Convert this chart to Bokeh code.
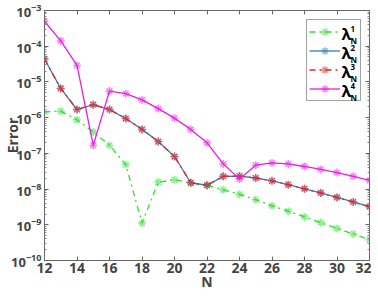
from bokeh.plotting import figure
from bokeh.models import (FixedTicker, LinearAxis, LogAxis, Legend, LegendItem, Label,
                          CustomJSTickFormatter)
from bokeh.embed import file_html
from bokeh.resources import INLINE

N = list(range(12, 33))
lam1 = [1.45e-6, 1.52e-6, 8.7e-7, 3.97e-7, 1.67e-7, 4.85e-8, 1.12e-9, 1.57e-8, 1.81e-8, 1.5e-8,
        1.28e-8, 9.55e-9, 7.14e-9, 5.05e-9, 3.4e-9, 2.41e-9, 1.66e-9, 1.15e-9, 7.9e-10, 5.56e-10, 3.84e-10]
lam2 = [4.36e-5, 6.56e-6, 1.69e-6, 2.3e-6, 1.69e-6, 9.44e-7, 4.69e-7, 2.14e-7, 8.15e-8, 1.5e-8,
        1.28e-8, 2.27e-8, 2.31e-8, 2.04e-8, 1.7e-8, 1.33e-8, 1.02e-8, 7.79e-9, 5.82e-9, 4.35e-9, 3.2e-9]
lam3 = [4.36e-5, 6.56e-6, 1.69e-6, 2.3e-6, 1.69e-6, 9.44e-7, 4.69e-7, 2.14e-7, 8.15e-8, 1.5e-8,
        1.28e-8, 2.27e-8, 2.31e-8, 2.04e-8, 1.7e-8, 1.33e-8, 1.02e-8, 7.79e-9, 5.82e-9, 4.35e-9, 3.2e-9]
lam4 = [5e-4, 1.41e-4, 2.9e-5, 1.67e-7, 5.56e-6, 4.71e-6, 3.13e-6, 1.79e-6, 9.67e-7, 4.69e-7,
        1.97e-7, 5.07e-8, 1.92e-8, 4.68e-8, 5.39e-8, 5.07e-8, 4.29e-8, 3.56e-8, 2.9e-8, 2.27e-8, 1.74e-8]
x_ticks = list(range(12, 33, 2))
y_ticks = [1e-10, 1e-9, 1e-8, 1e-7, 1e-6, 1e-5, 1e-4, 1e-3]
sup_labels = ["1", "2", "3", "4"]

FONT = "Open Sans"
FW, FH = 325, 250
minor = [m * 10.0 ** e for e in range(-10, -3) for m in range(2, 10)]

p = figure(frame_width=FW, frame_height=FH, y_axis_type="log", x_range=(12, 32),
           y_range=(1e-10, 1e-3), output_backend="svg", toolbar_location=None,
           min_border_left=2, min_border_right=2, min_border_top=10, min_border_bottom=2)
p.xgrid.visible = False
p.ygrid.visible = False
p.outline_line_color = "#666666"

colors = ["#2fe02f", "#2f7fc1", "#ee2020", "#e81ee8"]
dashes = ["dashdot", "solid", "dashdot", "solid"]
series = [lam1, lam2, lam3, lam4]
items = []
for s, c, d in zip(series, colors, dashes):
    r1 = p.line(N, s, line_color=c, line_dash=d, line_width=1.3)
    r2 = p.scatter(N, s, marker="asterisk", size=8, line_color=c, line_alpha=0.55, line_width=1.5)
    items.append((r1, r2))

for ax in p.xaxis:
    ax.ticker = FixedTicker(ticks=x_ticks)
    ax.axis_label = "N"
    ax.axis_label_text_font = FONT
    ax.axis_label_text_font_style = "bold"
    ax.axis_label_text_font_size = "14px"
    ax.axis_label_standoff = -4
    ax.major_label_text_font = FONT
    ax.major_label_text_font_style = "bold"
    ax.major_label_text_font_size = "14px"
    ax.major_label_standoff = 2
    ax.major_tick_in = 4
    ax.major_tick_out = 0
    ax.axis_line_color = "#666666"
    ax.major_tick_line_color = "#666666"

for ax in p.yaxis:
    ax.ticker = FixedTicker(ticks=y_ticks, minor_ticks=minor)
    ax.axis_label = "Error"
    ax.axis_label_text_font = FONT
    ax.axis_label_text_font_style = "bold"
    ax.axis_label_text_font_size = "14px"
    ax.axis_label_standoff = -14
    ax.major_label_text_font = FONT
    ax.major_label_text_font_style = "bold"
    ax.major_label_text_font_size = "13px"
    ax.major_label_standoff = 3
    ax.major_tick_in = 4
    ax.major_tick_out = 0
    ax.minor_tick_in = 2
    ax.minor_tick_out = 0
    ax.axis_line_color = "#666666"
    ax.major_tick_line_color = "#666666"
    ax.minor_tick_line_color = "#888888"

blank = CustomJSTickFormatter(code="return ''")
top = LinearAxis(ticker=FixedTicker(ticks=x_ticks), formatter=blank, major_tick_in=4, major_tick_out=0,
                 minor_tick_in=0, minor_tick_out=0, major_label_standoff=0,
                 axis_line_color="#666666", major_tick_line_color="#666666",
                 major_label_text_font_size="1px")
right = LogAxis(ticker=FixedTicker(ticks=y_ticks, minor_ticks=minor),
                formatter=blank, major_tick_in=4, major_tick_out=0, minor_tick_in=2, minor_tick_out=0,
                major_label_standoff=0, axis_line_color="#666666", major_tick_line_color="#666666",
                minor_tick_line_color="#888888", major_label_text_font_size="1px")
p.add_layout(top, "above")
p.add_layout(right, "right")

# legend: glyph samples from Bokeh's Legend, label text drawn as Labels
PAD, GW, GH, STAND, LW = 2, 31, 19, 2, 16
LEG_W = 2 * PAD + GW + STAND + LW
LEG_H = 2 * PAD + 4 * GH
lx = FW - 10 - LEG_W
ly = FH - 11 - LEG_H
legend = Legend(items=[LegendItem(label=" ", renderers=list(rr)) for rr in items],
                location=(lx, ly), padding=PAD, spacing=0, margin=0,
                glyph_width=GW, glyph_height=GH, label_standoff=STAND, label_width=LW, label_height=10,
                label_text_font=FONT, label_text_font_size="6px",
                border_line_color="#444444", border_line_width=1, background_fill_alpha=0.0)
p.add_layout(legend)

for i, sl in enumerate(sup_labels):
    yc = ly + LEG_H - (PAD + GH * i + GH / 2)
    xl = lx + PAD + GW + STAND
    p.add_layout(Label(x=xl, y=yc - 1, x_units="screen", y_units="screen", text="λ", level="overlay",
                       text_font=FONT, text_font_style="bold", text_font_size="16px",
                       text_baseline="alphabetic", text_align="left", text_color="black"))
    p.add_layout(Label(x=xl + 9, y=yc + 4, x_units="screen", y_units="screen", text=sl, level="overlay",
                       text_font=FONT, text_font_style="bold", text_font_size="8px",
                       text_baseline="alphabetic", text_align="left", text_color="black"))
    p.add_layout(Label(x=xl + 9, y=yc - 7, x_units="screen", y_units="screen", text="N", level="overlay",
                       text_font=FONT, text_font_style="bold", text_font_size="8px",
                       text_baseline="alphabetic", text_align="left", text_color="black"))

open("out.html", "w").write(file_html(p, INLINE))
